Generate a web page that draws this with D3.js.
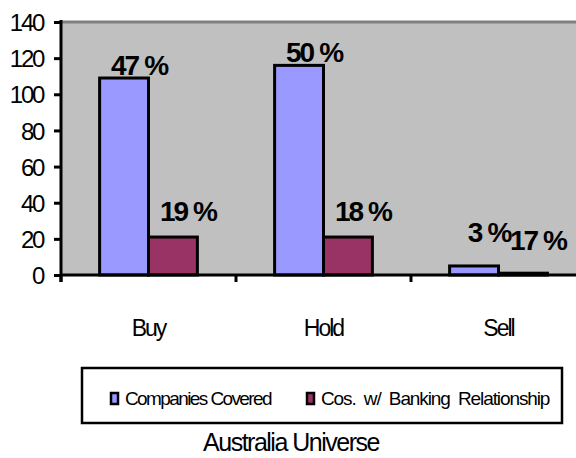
<!DOCTYPE html>
<html><head><meta charset="utf-8">
<script src="https://cdn.jsdelivr.net/npm/d3@7"></script>
<style>
body{margin:0;background:#fff;}
text{font-family:"Liberation Sans",Arial,sans-serif;}
</style></head>
<body><svg id="c" width="576" height="458"></svg>
<script>
const categories = ["Buy","Hold","Sell"];
const seriesNames = ["Companies Covered","Cos. w/ Banking Relationship"];
const covered = [109, 116, 5];
const banking = [21, 21, 1];
const coveredLabels = ["47","50","3"];
const bankingLabels = ["19","18","17"];
const yTicks = [0,20,40,60,80,100,120,140];
const title = "Australia Universe";
const colors = ["#9999FF","#993366"];

const svg = d3.select("#c");
const x0 = 61, x1 = 586, yTop = 22, yBot = 275;
const x = d3.scaleBand().domain(categories).range([x0, x1]).paddingInner(0).paddingOuter(0);
const xs = d3.scaleBand().domain([0,1]).range([0, x.bandwidth()]).paddingOuter(0.79).paddingInner(0);
const y = d3.scaleLinear().domain([0,140]).range([yBot, yTop]);

// plot background
svg.append("rect").attr("x", x0).attr("y", yTop).attr("width", 576 - x0).attr("height", yBot - yTop).attr("fill", "#C0C0C0");
svg.append("line").attr("x1", x0).attr("x2", 576).attr("y1", yTop).attr("y2", yTop).attr("stroke", "#808080").attr("stroke-width", 3);

const data = categories.map((c,i)=>({c, vals:[covered[i], banking[i]], labs:[coveredLabels[i], bankingLabels[i]]}));

const g = svg.append("g");
data.forEach(d=>{
  d.vals.forEach((v,j)=>{
    g.append("rect")
      .attr("x", x(d.c) + xs(j))
      .attr("y", y(v))
      .attr("width", xs.bandwidth())
      .attr("height", y(0) - y(v))
      .attr("fill", colors[j]).attr("stroke", "#000").attr("stroke-width", 3);
  });
});

// labels
const lab = svg.append("g").attr("font-weight","bold").attr("font-size", 28).attr("letter-spacing","-2px").attr("text-anchor","middle");
data.forEach((d,i)=>{
  d.labs.forEach((t,j)=>{
    const cx = x(d.c) + xs(j) + xs.bandwidth()/2 + 15;
    let cy;
    if (d.c === "Sell") cy = j===0 ? y(0) - 33 : y(0) - 25;
    else cy = j===0 ? y(d.vals[j]) - 3 : y(d.vals[j]) - 16;
    const tx = lab.append("text").attr("x", cx).attr("y", cy);
    tx.append("tspan").text(t);
    tx.append("tspan").attr("dx", 6).text("%");
  });
});

// y axis
const yAxis = d3.axisLeft(y).tickValues(yTicks).tickSize(7).tickPadding(11);
const ya = svg.append("g").attr("transform", `translate(${x0},0)`).call(yAxis);
ya.select(".domain").attr("stroke","#000").attr("stroke-width",3).attr("d", `M0,${yTop-2}V${yBot+7}`);
ya.selectAll(".tick line").attr("stroke","#000").attr("stroke-width",3);
ya.selectAll(".tick text").attr("font-size",24).attr("letter-spacing","-2.3px").attr("fill","#000").attr("font-family","Liberation Sans, Arial, sans-serif").attr("dy","0.36em");

// x axis
const xa = svg.append("g").attr("transform", `translate(0,${yBot})`);
xa.append("line").attr("x1", x0).attr("x2", 576).attr("stroke","#000").attr("stroke-width",3);
categories.forEach(c=>{
  xa.append("line").attr("x1", x(c)).attr("x2", x(c)).attr("y1",0).attr("y2",7).attr("stroke","#000").attr("stroke-width",3);
  xa.append("text").attr("x", x(c)+x.bandwidth()/2).attr("y", 61).attr("text-anchor","middle")
    .attr("font-size",23).attr("letter-spacing","-2px").text(c);
});

// legend
const lg = svg.append("g");
lg.append("rect").attr("x",82).attr("y",368).attr("width",480).attr("height",55).attr("fill","#fff").attr("stroke","#000").attr("stroke-width",2.5);
const legX = [111, 307];
const legSpacing = ["-1.6px","-1.1px"];
const legWord = ["0px","4px"];
seriesNames.forEach((n,j)=>{
  lg.append("rect").attr("x",legX[j]).attr("y",393).attr("width",7).attr("height",11).attr("fill",colors[j]).attr("stroke","#000").attr("stroke-width",2.5);
  lg.append("text").attr("x",legX[j]+14).attr("y",405).attr("font-size",19)
    .attr("letter-spacing",legSpacing[j]).attr("word-spacing",legWord[j]).text(n);
});

svg.append("text").attr("x",291).attr("y",451).attr("text-anchor","middle").attr("font-size",25).attr("letter-spacing","-1.5px").text(title);
</script></body></html>
